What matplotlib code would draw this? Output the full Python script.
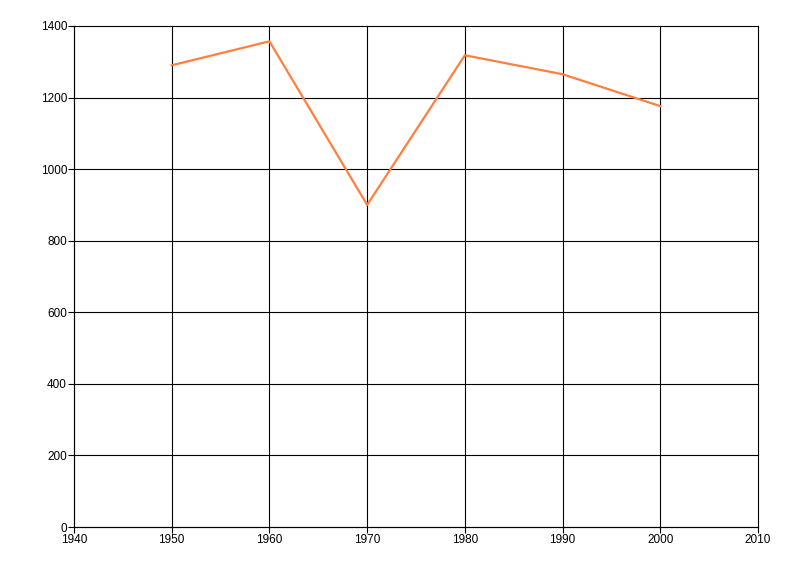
import matplotlib
matplotlib.use("Agg")
import matplotlib.pyplot as plt

# data
years = [1950, 1960, 1970, 1980, 1990, 2000]
values = [1290, 1357, 900, 1318, 1265, 1176]
x_ticks = [1940, 1950, 1960, 1970, 1980, 1990, 2000, 2010]
y_ticks = [0, 200, 400, 600, 800, 1000, 1200, 1400]

plt.rcParams['font.family'] = ['Liberation Sans', 'DejaVu Sans']

fig = plt.figure(figsize=(8, 5.76), dpi=100)
ax = fig.add_axes([0.0925, 0.085, 0.855, 0.87])

ax.plot(years, values, color='#ff7f40', linewidth=1.6, zorder=3)

ax.set_xlim(1940, 2010)
ax.set_ylim(0, 1400)
ax.set_xticks(x_ticks)
ax.set_yticks(y_ticks)
ax.grid(True, color='black', linewidth=0.8)
# keep edge gridlines fully drawn
for gl in ax.get_xgridlines() + ax.get_ygridlines():
    gl.set_clip_on(False)
for side in ['top', 'right']:
    ax.spines[side].set_visible(False)
for side in ['left', 'bottom']:
    ax.spines[side].set_linewidth(0.8)
ax.tick_params(direction='out', length=4, width=0.8, labelsize=8.5, pad=1)

fig.savefig('out.png', dpi=100)
